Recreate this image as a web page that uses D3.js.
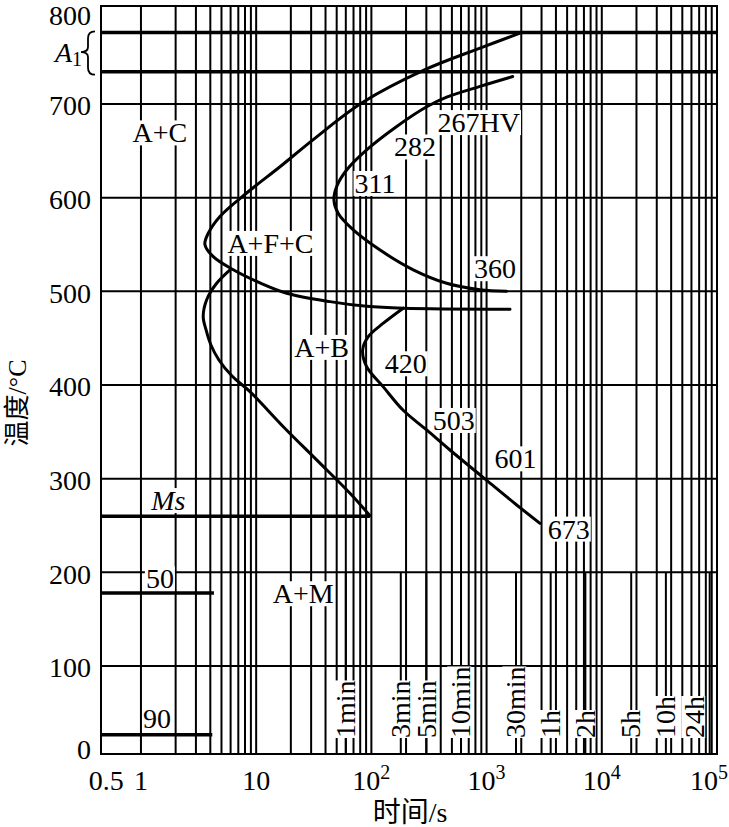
<!DOCTYPE html>
<html><head><meta charset="utf-8">
<script src="https://cdn.jsdelivr.net/npm/d3@7"></script>
<style>
html,body{margin:0;padding:0;background:#fff;}
svg{display:block;}
</style></head><body>
<svg id="chart" width="729" height="827" font-family="'Liberation Serif', 'DejaVu Serif', serif"></svg>
<script>
// ---------------- data ----------------
const yTickValues = [0, 100, 200, 300, 400, 500, 600, 700, 800];
const xTickValues = [0.5, 1, 10, 100, 1000, 10000, 100000];
const xTickBases = ["0.5", "1", "10", "10", "10", "10", "10"];
const xTickExps = ["", "", "", "2", "3", "4", "5"];
const timeMarkLabels = ["1min", "3min", "5min", "10min", "30min", "1h", "2h", "5h", "10h", "24h"];
const timeMarkSeconds = [60, 180, 300, 600, 1800, 3600, 7200, 18000, 36000, 86400];

const a1Temps = [773, 733];
const msTemp = 260;
const msEndTime = 97;

// C-curves as [time (s), temperature (°C)]
const pearliteStart = [[1923,772],[877,757],[292,735],[82.4,701],[31.3,662],[16.1,633],[8.27,605],[4.85,580],[3.84,562],[3.59,550],[4.24,537],[6.33,523],[10.8,509],[18.4,498],[43.7,489],[91,484],[189,482],[1596,481]];
const pearliteFinish = [[1685,728],[877,718],[450,707],[302,697],[166,676],[91,651],[61,629.5],[50,612],[47.3,597.5],[51.6,583],[69.7,565.5],[119,544],[231,523],[450,508.6],[877,501.7],[1494,500]];
const bainiteStart = [[5.93,523],[4.54,508.6],[3.72,491],[3.47,473],[3.67,459],[4.05,442.7],[4.75,426.7],[6.17,409.6],[8.83,393],[17.2,355.5],[33.5,320],[65.2,284.4],[97.2,260.5]];
const bainiteFinish = [[189,482],[127,466],[94,451.6],[84,437.4],[91,419.5],[127,398],[189,373],[302,352],[481,330.6],[936,301.2],[1825,271.9],[2907,252.3]];

// short cooling lines (hardness-level markers)
const coolLabels = ["50", "90"];
const coolTemps = [178, 22];
const coolEndTimes = [4.3, 4.16];
const coolLabelTimes = [1.46, 1.38];
const coolLabelTemps = [183, 29];

// region labels
const regionTexts = ["A+C", "A+F+C", "A+B", "A+M"];
const regionTimes = [1.46, 13.3, 37.0, 25.6];
const regionTemps = [659, 541, 430, 167];

// hardness labels
const hvTexts = ["267HV", "282", "311", "360", "420", "503", "601", "673"];
const hvTimes = [856, 239, 107.5, 1183, 199, 519, 1782, 5170];
const hvTemps = [670, 644, 605, 514, 412.5, 352, 311, 236];

const msLabelTime = 1.73, msLabelTemp = 266.5;

// ---------------- chart ----------------
const svg = d3.select("#chart");
const SERIF = "'Liberation Serif', 'DejaVu Serif', serif";
const CJK = "'Liberation Serif', 'Noto Sans CJK SC', sans-serif";
const W = 729, L = 101, R = 717, T = 6, B = 754;
const FS = 28;

const x = d3.scaleLog().domain([0.45, 1e5]).range([L, R]);
const y = d3.scaleLinear().domain([0, 100, 700, 800]).range([B, 666, 104, T]);

const grid = svg.append("g");
const gridTimes = x.ticks().filter(t => t >= 1 && t < 1e5);
grid.selectAll("line.v").data(gridTimes).enter().append("line")
  .attr("x1", d => x(d)).attr("x2", d => x(d))
  .attr("y1", y(800)).attr("y2", y(0))
  .attr("stroke", "#000").attr("stroke-width", 2);
grid.selectAll("line.m").data(timeMarkSeconds).enter().append("line")
  .attr("x1", d => x(d)).attr("x2", d => x(d))
  .attr("y1", y(200)).attr("y2", y(0))
  .attr("stroke", "#000").attr("stroke-width", 2);
grid.selectAll("line.h").data(yTickValues.filter(v => v > 0 && v < 800)).enter().append("line")
  .attr("x1", L).attr("x2", R)
  .attr("y1", d => y(d)).attr("y2", d => y(d))
  .attr("stroke", "#000").attr("stroke-width", 2);

const labelG = svg.append("g");
function boxedText(g, txt, px, py, opts = {}) {
  const t = g.append("text").attr("x", px).attr("y", py)
    .attr("text-anchor", opts.anchor || "middle")
    .attr("font-family", SERIF)
    .attr("font-size", opts.size || FS)
    .text(txt);
  if (opts.italic) t.attr("font-style", "italic");
  if (opts.transform) t.attr("transform", opts.transform);
  if (opts.dy) t.attr("dy", opts.dy);
  const bb = t.node().getBBox();
  const pad = opts.pad == null ? 1 : opts.pad;
  g.insert("rect", () => t.node())
    .attr("x", bb.x - pad).attr("y", bb.y + (opts.topTrim || 0))
    .attr("width", bb.width + 2 * pad).attr("height", bb.height - (opts.topTrim || 0) - (opts.botTrim || 0))
    .attr("fill", "#fff")
    .attr("transform", opts.transform || null);
  return t;
}

regionTexts.forEach((s, i) => boxedText(labelG, s, x(regionTimes[i]), y(regionTemps[i]), {topTrim: 3, botTrim: 3}));
hvTexts.forEach((s, i) => boxedText(labelG, s, x(hvTimes[i]), y(hvTemps[i]), {topTrim: 3, botTrim: 3}));
coolLabels.forEach((s, i) => boxedText(labelG, s, x(coolLabelTimes[i]), y(coolLabelTemps[i]), {topTrim: 3, botTrim: 3}));
boxedText(labelG, "Ms", x(msLabelTime), y(msLabelTemp), {italic: true, topTrim: 3, botTrim: 3});

timeMarkLabels.forEach((s, i) => {
  const cx = Math.min(x(timeMarkSeconds[i]), R - 22);
  boxedText(labelG, s, 0, 0, {anchor: "start", dy: "0.33em", pad: 0, topTrim: 2, botTrim: 5,
    transform: `translate(${cx},738) rotate(-90)`});
});

const line = d3.line().x(d => x(d[0])).y(d => y(d[1])).curve(d3.curveCatmullRom.alpha(0.5));
const curveG = svg.append("g").attr("fill", "none").attr("stroke", "#000").attr("stroke-width", 3)
  .attr("stroke-linecap", "round").attr("stroke-linejoin", "round");
[pearliteStart, pearliteFinish, bainiteStart, bainiteFinish].forEach(c => curveG.append("path").attr("d", line(c)));

a1Temps.forEach(v => svg.append("line").attr("x1", L).attr("x2", R).attr("y1", y(v)).attr("y2", y(v))
  .attr("stroke", "#000").attr("stroke-width", 3.5));
svg.append("line").attr("x1", L).attr("x2", x(msEndTime)).attr("y1", y(msTemp)).attr("y2", y(msTemp))
  .attr("stroke", "#000").attr("stroke-width", 3.5);
coolTemps.forEach((v, i) => svg.append("line").attr("x1", L).attr("x2", x(coolEndTimes[i]))
  .attr("y1", y(v)).attr("y2", y(v)).attr("stroke", "#000").attr("stroke-width", 3.5));

svg.append("rect").attr("x", L).attr("y", T).attr("width", R - L).attr("height", B - T)
  .attr("fill", "none").attr("stroke", "#000").attr("stroke-width", 2);

// y tick labels
svg.append("g").selectAll("text").data(yTickValues).enter().append("text")
  .attr("x", 91).attr("y", d => Math.max(16, Math.min(750, y(d) + 2)))
  .attr("dy", "0.33em").attr("text-anchor", "end")
  .attr("font-family", SERIF).attr("font-size", FS)
  .text(d => d);

// x tick labels
const xt = svg.append("g").selectAll("text").data(xTickValues).enter().append("text")
  .attr("x", d => x(d)).attr("y", 790).attr("text-anchor", "middle")
  .attr("font-family", SERIF).attr("font-size", FS);
xt.append("tspan").text((d, i) => xTickBases[i]);
xt.append("tspan").attr("font-size", 20).attr("dy", -11).text((d, i) => xTickExps[i]);
xt.each(function() {
  const bb = this.getBBox();
  if (bb.x + bb.width > W - 1) d3.select(this).attr("x", +d3.select(this).attr("x") - (bb.x + bb.width - (W - 1)));
});

// axis titles
svg.append("text").attr("x", 410).attr("y", 822).attr("text-anchor", "middle")
  .attr("font-family", CJK).attr("font-size", FS).text("时间/s");
svg.append("text").attr("transform", "translate(17,403) rotate(-90)").attr("text-anchor", "middle")
  .attr("dy", "0.36em").attr("font-family", CJK).attr("font-size", 26).text("温度/°C");

// A1 label with brace
const a1Mid = (y(a1Temps[0]) + y(a1Temps[1])) / 2;
const a1t = svg.append("text").attr("x", 55).attr("y", a1Mid + 10)
  .attr("font-family", SERIF).attr("font-size", FS);
a1t.append("tspan").attr("font-style", "italic").text("A");
a1t.append("tspan").attr("font-size", 20).attr("dy", 4).text("1");
const y1 = y(a1Temps[0]) - 1, y2 = y(a1Temps[1]) + 3;
const bx = 95, bw = 7;
const p = d3.path();
p.moveTo(bx, y1);
p.quadraticCurveTo(bx - bw, y1, bx - bw, y1 + 7);
p.lineTo(bx - bw, a1Mid - 5);
p.quadraticCurveTo(bx - bw, a1Mid, bx - 2 * bw, a1Mid);
p.quadraticCurveTo(bx - bw, a1Mid, bx - bw, a1Mid + 5);
p.lineTo(bx - bw, y2 - 7);
p.quadraticCurveTo(bx - bw, y2, bx, y2);
svg.append("path").attr("d", p.toString()).attr("fill", "none").attr("stroke", "#000").attr("stroke-width", 1.8);
</script>
</body></html>
